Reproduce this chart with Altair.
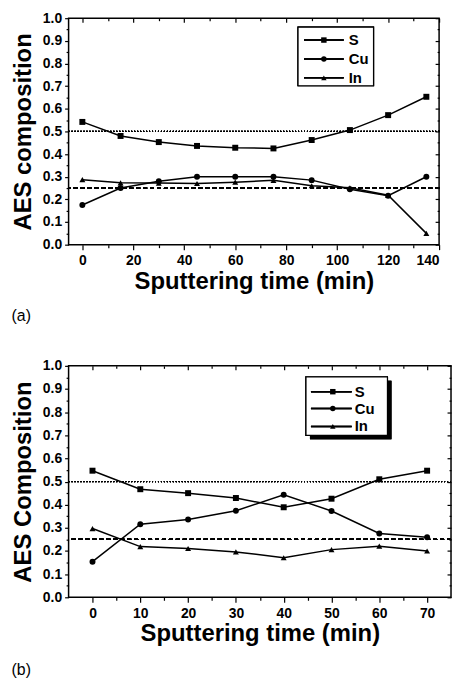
import altair as alt
import pandas as pd

FONT = "Liberation Sans"
elements = ["S", "Cu", "In"]
shapes = ["square", "circle", "triangle-up"]

# Panel (a)
time_a = [0, 15, 30, 45, 60, 75, 90, 105, 120, 135]
s_a = [0.542, 0.480, 0.453, 0.436, 0.428, 0.425, 0.462, 0.506, 0.572, 0.653]
cu_a = [0.175, 0.250, 0.280, 0.300, 0.300, 0.300, 0.285, 0.245, 0.216, 0.300]
in_a = [0.287, 0.273, 0.272, 0.270, 0.276, 0.284, 0.260, 0.251, 0.218, 0.050]

# Panel (b)
time_b = [0, 10, 20, 30, 40, 50, 60, 70]
s_b = [0.547, 0.467, 0.450, 0.429, 0.389, 0.426, 0.510, 0.547]
cu_b = [0.154, 0.316, 0.336, 0.374, 0.443, 0.373, 0.276, 0.259]
in_b = [0.297, 0.219, 0.211, 0.196, 0.171, 0.206, 0.221, 0.200]

ref_dotted = 0.5
ref_dashed = 0.25

y_major = [round(i * 0.1, 2) for i in range(11)]
y_minor = [round(0.05 + i * 0.1, 2) for i in range(10)]


def long_df(times, s, cu, inn):
    rows = []
    for name, vals in zip(elements, [s, cu, inn]):
        for t, v in zip(times, vals):
            rows.append({"time": t, "value": v, "element": name})
    return pd.DataFrame(rows)


def panel(times, s, cu, inn, xdom, xmajor, xminor, ytitle, w, h, tag, tag_offset,
          leg_rows, leg_line, leg_mark, leg_text, box, shadow):
    df = long_df(times, s, cu, inn)
    xs = alt.Scale(domain=xdom, nice=False, zero=False)
    ys = alt.Scale(domain=[0, 1], nice=False)
    shape_enc = alt.Shape("element:N", scale=alt.Scale(domain=elements, range=shapes), legend=None)
    base = alt.Chart(df)

    def ax(orient, values, size, labels=False, title=None, **kw):
        return alt.Axis(orient=orient, values=values, tickSize=size, labels=labels, title=title,
                        grid=False, domain=False, **kw)

    lines = base.mark_line(color="black", strokeWidth=1.5).encode(
        x=alt.X("time:Q", scale=xs, axis=ax("bottom", xmajor, 5, True, "Sputtering time (min)",
                                             labelPadding=4, titlePadding=2, format="d")),
        y=alt.Y("value:Q", scale=ys, axis=ax("left", y_major, 4, True, ytitle,
                                              labelPadding=3, titlePadding=7, format=".1f")),
        detail="element:N",
        order="time:Q",
    )
    pts = base.mark_point(filled=True, size=36, color="black", opacity=1).encode(
        x=alt.X("time:Q", scale=xs, axis=ax("bottom", xminor, 3)),
        y=alt.Y("value:Q", scale=ys, axis=ax("left", y_minor, 2.5)),
        shape=shape_enc,
    )
    # inward ticks on the top and right edges of the frame
    frame_major = base.mark_point(opacity=0).encode(
        x=alt.X("time:Q", scale=xs, axis=ax("bottom", xmajor, 4, offset=-h)),
        y=alt.Y("value:Q", scale=ys, axis=ax("left", y_major, 4, offset=-w)),
    )
    frame_minor = base.mark_point(opacity=0).encode(
        x=alt.X("time:Q", scale=xs, axis=ax("bottom", xminor, 2.5, offset=-h)),
        y=alt.Y("value:Q", scale=ys, axis=ax("left", y_minor, 2, offset=-w)),
    )
    dotted = base.mark_rule(color="black", strokeWidth=1, strokeDash=[1, 2]).encode(
        y=alt.datum(ref_dotted, axis=None))
    dashed = base.mark_rule(color="black", strokeWidth=1.2, strokeDash=[4, 3]).encode(
        y=alt.datum(ref_dashed, axis=None))

    # legend box, drawn inside the plot area
    leg_df = pd.DataFrame({"element": elements})
    lb = alt.Chart(leg_df)
    legend = []
    if shadow:
        legend.append(lb.mark_rect(color="black").encode(
            x=alt.value(box[0] + shadow), x2=alt.value(box[1] + shadow),
            y=alt.value(box[2] + shadow), y2=alt.value(box[3] + shadow)))
    legend.append(lb.mark_rect(fill="white", stroke="black", strokeWidth=1.2).encode(
        x=alt.value(box[0]), x2=alt.value(box[1]), y=alt.value(box[2]), y2=alt.value(box[3])))
    for name, ry in zip(elements, leg_rows):
        legend.append(lb.mark_rule(color="black", strokeWidth=1.5).encode(
            x=alt.value(leg_line[0]), x2=alt.value(leg_line[1]), y=alt.value(ry)))
        sel = lb.transform_filter(alt.datum.element == name)
        legend.append(sel.mark_point(filled=True, size=30, color="black", opacity=1).encode(
            x=alt.value(leg_mark), y=alt.value(ry), shape=shape_enc))
        legend.append(sel.mark_text(align="left", baseline="middle", font=FONT, fontWeight="bold",
                                    fontSize=15, color="black").encode(
            x=alt.value(leg_text), y=alt.value(ry), text="element:N"))

    return alt.layer(dotted, dashed, lines, pts, frame_major, frame_minor, *legend).resolve_axis(
        x="independent", y="independent").properties(
        width=w, height=h,
        title=alt.TitleParams(tag, orient="bottom", anchor="start", frame="bounds", fontSize=16,
                              fontWeight="normal", font=FONT, color="black", offset=tag_offset),
    )


pa = panel(time_a, s_a, cu_a, in_a, [-5.4, 140], list(range(0, 141, 20)), list(range(10, 140, 20)),
           "AES composition", 373, 228, "(a)", 15,
           [22, 41, 60], [237, 277], 257, 282, [231, 307, 9, 68], 0)
pb = panel(time_b, s_b, cu_b, in_b, [-5, 75], list(range(0, 71, 10)), list(range(5, 71, 10)),
           "AES Composition", 385, 233, "(b)", 16,
           [26, 43, 61], [244, 285], 266, 288, [239, 321, 11, 70], 4)

chart = alt.vconcat(pa, pb, spacing=33).properties(
    padding={"left": 2, "top": 0, "right": 0, "bottom": 0}
).configure_view(stroke="black", strokeWidth=1.5).configure_axis(
    labelFont=FONT, labelFontWeight="bold", labelFontSize=14, labelColor="black",
    titleFont=FONT, titleFontWeight="bold", titleFontSize=24, titleColor="black",
    tickColor="black", tickWidth=1.2, grid=False,
)

chart.save("out.html", embed_options={"renderer": "svg", "actions": False})
